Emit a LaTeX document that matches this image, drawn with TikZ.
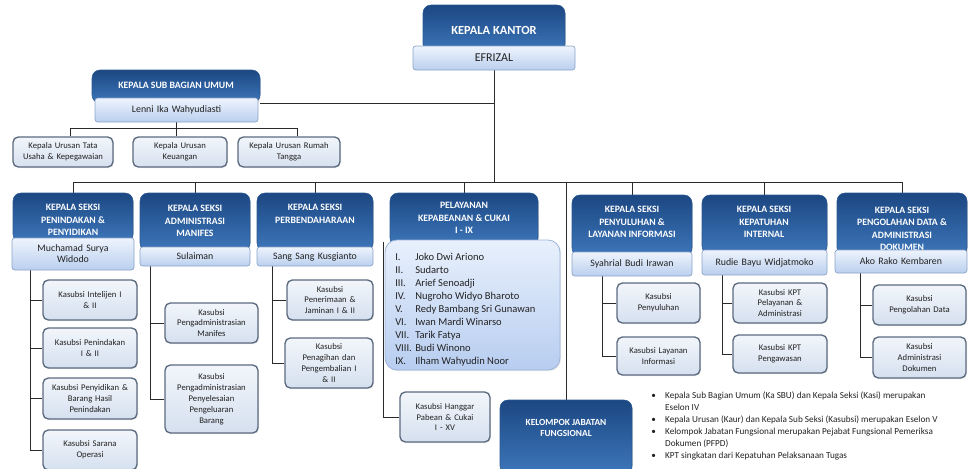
\documentclass[tikz,border=0pt]{standalone}
\usepackage{fontspec}
\setmainfont{Carlito}
\usetikzlibrary{shadows}
\pgfdeclarelayer{bg}
\pgfsetlayers{bg,main}

\definecolor{hdrtop}{HTML}{1C4782}
\definecolor{hdrbot}{HTML}{3D77BB}
\definecolor{hdrline}{HTML}{2A5893}
\definecolor{nmtop}{HTML}{EEF4FD}
\definecolor{nmbot}{HTML}{BACFEE}
\definecolor{nmline}{HTML}{8AA3C8}
\definecolor{subtop}{HTML}{F2F6FB}
\definecolor{subbot}{HTML}{D5E0EF}
\definecolor{subline}{HTML}{5C6A7F}
\definecolor{lsttop}{HTML}{E8F0FC}
\definecolor{lstbot}{HTML}{B7CDF0}
\definecolor{lstline}{HTML}{9DB4D8}
\definecolor{txtc}{HTML}{222222}
\definecolor{linec}{HTML}{2A2A2A}

% box given by its corners in pixel coordinates: style, name, x1, y1, x2, y2, text
\newcommand\orgbox[7]{%
  \pgfmathsetmacro\obw{(#5-#3)*0.75}%
  \pgfmathsetmacro\obh{(#6-#4)*0.75}%
  \pgfmathsetmacro\obt{(#5-#3)*0.75-4}%
  \node[#1, minimum width=\obw pt, minimum height=\obh pt, text width=\obt pt,
        align=center, inner xsep=1pt, inner ysep=0pt]
        (#2) at ({(#3+#5)/2},{(#4+#6)/2}) {#7};}

\tikzset{
  hdr/.style={draw=hdrline, line width=0.4pt, rounded corners=6pt,
    top color=hdrtop, bottom color=hdrbot,
    drop shadow={opacity=0.25, shadow xshift=0.6pt, shadow yshift=-0.9pt}},
  hdrtxt/.style={text=white, font=\fontsize{7.3}{9.3}\selectfont\bfseries,
    align=center, inner sep=0pt},
  nm/.style={draw=nmline, line width=0.5pt, rounded corners=2pt,
    top color=nmtop, bottom color=nmbot,
    font=\fontsize{7.4}{8.4}\selectfont, text=txtc},
  sub/.style={draw=subline, line width=1pt, rounded corners=4pt,
    top color=subtop, bottom color=subbot,
    font=\fontsize{6.5}{8.2}\selectfont, text=txtc,
    drop shadow={opacity=0.18, shadow xshift=0.8pt, shadow yshift=-0.8pt}},
  lst/.style={draw=lstline, line width=0.6pt, rounded corners=9pt,
    top color=lsttop, bottom color=lstbot,
    drop shadow={opacity=0.18, shadow xshift=0.8pt, shadow yshift=-0.8pt}},
  link/.style={draw=linec, line width=0.6pt},
  notetxt/.style={font=\fontsize{6.9}{9}\selectfont, text=txtc, inner sep=0pt},
}

\begin{document}
\begin{tikzpicture}[x=0.75pt,y=-0.75pt]
\useasboundingbox (0,0) rectangle (968,468);

% ---------- head of office ----------
\orgbox{hdr}{kkd}{423}{5}{565}{52}{}
\node[hdrtxt, font=\fontsize{9.3}{11}\selectfont\bfseries] (kkt) at (494,30) {KEPALA KANTOR};
\orgbox{nm, font=\fontsize{9}{10}\selectfont}{kkl}{413}{46}{575}{70}{EFRIZAL}

% ---------- general affairs ----------
\orgbox{hdr}{sbud}{92}{70}{260}{103}{}
\node[hdrtxt] (sbut) at (176,85) {KEPALA SUB BAGIAN UMUM};
\orgbox{nm}{sbul}{95}{98}{258}{122}{Lenni Ika Wahyudiasti}

\orgbox{sub}{u1}{13}{137}{113}{167}{Kepala Urusan Tata\\Usaha \& Kepegawaian}
\orgbox{sub}{u2}{133}{137}{227}{167}{Kepala Urusan\\Keuangan}
\orgbox{sub}{u3}{238}{137}{340}{167}{Kepala Urusan Rumah\\Tangga}

% ---------- section heads ----------
\orgbox{hdr}{s1d}{13}{193}{133}{242}{}
\node[hdrtxt] (s1t) at (73,220) {KEPALA SEKSI\\PENINDAKAN \&\\PENYIDIKAN};
\orgbox{nm}{s1l}{12}{238}{134}{270}{Muchamad Surya\\Widodo}

\orgbox{hdr}{s2d}{140}{193}{250}{251}{}
\node[hdrtxt] (s2t) at (195,221) {KEPALA SEKSI\\ADMINISTRASI\\MANIFES};
\orgbox{nm}{s2l}{140}{247}{250}{266}{Sulaiman}

\orgbox{hdr}{s3d}{257}{193}{373}{251}{}
\node[hdrtxt] (s3t) at (315,214) {KEPALA SEKSI\\PERBENDAHARAAN};
\orgbox{nm}{s3l}{257}{247}{373}{266}{Sang Sang Kusgianto}

\orgbox{hdr}{s4d}{390}{193}{538}{246}{}
\node[hdrtxt] (s4t) at (464,218) {PELAYANAN\\KEPABEANAN \& CUKAI\\I - IX};
\orgbox{lst}{s4l}{385}{240}{560}{370}{}
\node[font=\fontsize{7.9}{9.8}\selectfont, text=txtc, anchor=north west, inner sep=0pt]
  (s4n) at (395,251) {%
  \begin{tabular}{@{}p{15pt}@{}l@{}}
  I. & Joko Dwi Ariono\\
  II. & Sudarto\\
  III. & Arief Senoadji\\
  IV. & Nugroho Widyo Bharoto\\
  V. & Redy Bambang Sri Gunawan\\
  VI. & Iwan Mardi Winarso\\
  VII. & Tarik Fatya\\
  VIII. & Budi Winono\\
  IX. & Ilham Wahyudin Noor
  \end{tabular}};

\orgbox{hdr}{s5d}{572}{195}{692}{256}{}
\node[hdrtxt] (s5t) at (632,222) {KEPALA SEKSI\\PENYULUHAN \&\\LAYANAN INFORMASI};
\orgbox{nm}{s5l}{572}{252}{692}{276}{Syahrial Budi Irawan}

\orgbox{hdr}{s6d}{702}{195}{827}{254}{}
\node[hdrtxt] (s6t) at (764,222) {KEPALA SEKSI\\KEPATUHAN\\INTERNAL};
\orgbox{nm}{s6l}{702}{250}{827}{275}{Rudie Bayu Widjatmoko}

\orgbox{hdr}{s7d}{837}{193}{967}{256}{}
\node[hdrtxt] (s7t) at (902,229) {KEPALA SEKSI\\PENGOLAHAN DATA \&\\ADMINISTRASI\\DOKUMEN};
\orgbox{nm}{s7l}{835}{250}{967}{273}{Ako Rako Kembaren}

% ---------- sub sections ----------
\orgbox{sub}{s1a}{43}{280}{137}{320}{Kasubsi Intelijen I\\\& II}
\orgbox{sub}{s1b}{43}{328}{137}{368}{Kasubsi Penindakan\\I \& II}
\orgbox{sub}{s1c}{43}{378}{137}{419}{Kasubsi Penyidikan \&\\Barang Hasil\\Penindakan}
\orgbox{sub}{s1e}{43}{430}{137}{470}{Kasubsi Sarana\\Operasi}

\orgbox{sub}{s2a}{165}{303}{258}{343}{Kasubsi\\Pengadministrasian\\Manifes}
\orgbox{sub}{s2b}{165}{365}{258}{433}{Kasubsi\\Pengadministrasian\\Penyelesaian\\Pengeluaran\\Barang}

\orgbox{sub}{s3a}{287}{280}{373}{320}{Kasubsi\\Penerimaan \&\\Jaminan I \& II}
\orgbox{sub}{s3b}{285}{338}{373}{388}{Kasubsi\\Penagihan dan\\Pengembalian I\\\& II}

\orgbox{sub}{hg}{400}{392}{490}{442}{Kasubsi Hanggar\\Pabean \& Cukai\\I - XV}

\orgbox{sub}{s5a}{617}{283}{700}{323}{Kasubsi\\Penyuluhan}
\orgbox{sub}{s5b}{617}{337}{700}{375}{Kasubsi Layanan\\Informasi}

\orgbox{sub}{s6a}{733}{283}{827}{323}{Kasubsi KPT\\Pelayanan \&\\Administrasi}
\orgbox{sub}{s6b}{733}{335}{827}{373}{Kasubsi KPT\\Pengawasan}

\orgbox{sub}{s7a}{873}{285}{966}{325}{Kasubsi\\Pengolahan Data}
\orgbox{sub}{s7b}{873}{337}{966}{378}{Kasubsi\\Administrasi\\Dokumen}

% ---------- functional group ----------
\orgbox{hdr}{kjf}{500}{400}{632}{474}{}
\node[hdrtxt, font=\fontsize{7}{8.5}\selectfont\bfseries] (kjft) at (566,428) {KELOMPOK JABATAN\\FUNGSIONAL};

% ---------- notes ----------
\node[notetxt, anchor=north west] (notes) at (651,390) {%
  \begin{tabular}{@{}l@{\hspace{7pt}}l@{}}
  \textbullet & Kepala Sub Bagian Umum (Ka SBU) dan Kepala Seksi (Kasi) merupakan\\
   & Eselon IV\\
  \textbullet & Kepala Urusan (Kaur) dan Kepala Sub Seksi (Kasubsi) merupakan Eselon V\\
  \textbullet & Kelompok Jabatan Fungsional merupakan Pejabat Fungsional Pemeriksa\\
   & Dokumen (PFPD)\\
  \textbullet & KPT singkatan dari Kepatuhan Pelaksanaan Tugas
  \end{tabular}};

% ---------- connectors ----------
\coordinate (busL) at (73,182);
\coordinate (busR) at (902,182);
\coordinate (ubL) at (70,128);
\coordinate (ubR) at (297,128);
\coordinate (s1v) at (30,270);
\coordinate (s2v) at (150,266);
\coordinate (s3v) at (272,266);
\coordinate (s4v) at (383,242);
\coordinate (s5v) at (602,276);
\coordinate (s6v) at (722,275);
\coordinate (s7v) at (860,273);

\begin{pgfonlayer}{bg}
  \draw[link] (kkl.south) -- (kkl.south |- busL);
  \draw[link] (sbud.south east) -- (sbud.south east -| kkl.south);
  \draw[link] (busL) -- (busR);
  \foreach \s in {s1d,s2d,s3d,s4d,s5d,s6d,s7d,kjf}
    \draw[link] (\s.north) -- (\s.north |- busL);

  \draw[link] (sbul.south) -- (sbul.south |- u2.north);
  \draw[link] (ubL |- u1.north) -- (ubL) -- (ubR) -- (ubR |- u3.north);

  \foreach \b in {s1a,s1b,s1c,s1e} \draw[link] (s1v) |- (\b.west);
  \foreach \b in {s2a,s2b} \draw[link] (s2v) |- (\b.west);
  \foreach \b in {s3a,s3b} \draw[link] (s3v) |- (\b.west);
  \draw[link] (s4v) |- (hg.west);
  \foreach \b in {s5a,s5b} \draw[link] (s5v) |- (\b.west);
  \foreach \b in {s6a,s6b} \draw[link] (s6v) |- (\b.west);
  \foreach \b in {s7a,s7b} \draw[link] (s7v) |- (\b.west);
\end{pgfonlayer}
\end{tikzpicture}
\end{document}
